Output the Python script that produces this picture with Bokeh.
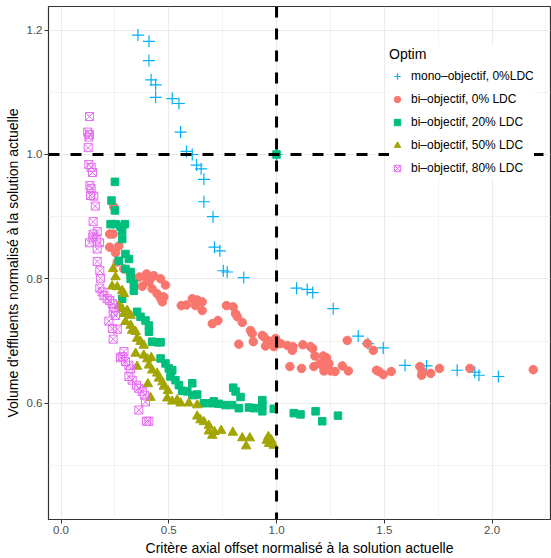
from bokeh.plotting import figure
from bokeh.models import Span, Legend, LegendItem, FixedTicker, Range1d
from bokeh.embed import file_html
from bokeh.resources import INLINE

# ---------------- data ----------------
series_labels = ["mono–objectif, 0%LDC", "bi–objectif, 0% LDC", "bi–objectif, 20% LDC",
                 "bi–objectif, 50% LDC", "bi–objectif, 80% LDC"]

mono_x = [0.357, 0.408, 0.408, 0.418, 0.439, 0.439, 0.516, 0.547, 0.555, 0.582, 0.609, 0.629,
          0.650, 0.663, 0.663, 0.705, 0.712, 0.737, 0.753, 0.771, 0.848, 1.000, 1.093, 1.142,
          1.168, 1.263, 1.379, 1.424, 1.495, 1.596, 1.696, 1.838, 1.920, 1.939, 2.029]
mono_y = [1.192, 1.182, 1.151, 1.120, 1.112, 1.092, 1.090, 1.082, 1.036, 1.005, 1.000, 0.983,
          0.977, 0.960, 0.924, 0.900, 0.851, 0.845, 0.813, 0.811, 0.802, 1.000, 0.785, 0.783,
          0.778, 0.752, 0.708, 0.696, 0.689, 0.661, 0.660, 0.653, 0.650, 0.645, 0.643]

bi0_x = [0.245, 0.226, 0.242, 0.226, 0.253, 0.268, 0.261, 0.291, 0.320, 0.340, 0.364, 0.397,
         0.415, 0.431, 0.462, 0.485, 0.377, 0.423, 0.446, 0.462, 0.477, 0.470, 0.408, 0.400,
         0.558, 0.582, 0.609, 0.624, 0.632, 0.655, 0.655, 0.702, 0.728, 0.768, 0.799, 0.810,
         0.818, 0.841, 0.879, 0.887, 0.825, 0.892, 0.934, 0.941, 0.957, 0.949, 0.972, 0.988,
         0.995, 1.011, 1.019, 1.050, 1.076, 1.073, 1.122, 1.158, 1.168, 1.178, 1.217, 1.232,
         1.328, 1.421, 1.449, 1.201, 1.212, 1.243, 1.062, 1.116, 1.173, 1.220, 1.251, 1.271,
         1.305, 1.333, 1.464, 1.475, 1.495, 1.532, 1.665, 1.676, 1.673, 1.715, 1.756, 1.897,
         2.191]
bi0_y = [0.916, 0.872, 0.872, 0.851, 0.842, 0.853, 0.827, 0.816, 0.810, 0.800, 0.803, 0.808,
         0.800, 0.805, 0.800, 0.790, 0.788, 0.784, 0.776, 0.769, 0.771, 0.763, 0.795, 0.797,
         0.757, 0.758, 0.768, 0.757, 0.766, 0.763, 0.749, 0.728, 0.733, 0.757, 0.755, 0.744,
         0.739, 0.730, 0.717, 0.712, 0.695, 0.699, 0.709, 0.707, 0.701, 0.692, 0.699, 0.691,
         0.704, 0.696, 0.696, 0.693, 0.691, 0.685, 0.694, 0.691, 0.688, 0.676, 0.676, 0.673,
         0.701, 0.696, 0.685, 0.664, 0.661, 0.664, 0.659, 0.656, 0.659, 0.652, 0.652, 0.651,
         0.660, 0.652, 0.653, 0.651, 0.646, 0.651, 0.659, 0.651, 0.645, 0.648, 0.656, 0.656,
         0.654]

bi20_x = [1.000, 0.250, 0.234, 0.250, 0.230, 0.253, 0.276, 0.296, 0.284, 0.284, 0.268, 0.299,
          0.315, 0.299, 0.323, 0.323, 0.338, 0.338, 0.284, 0.353, 0.369, 0.392, 0.408, 0.408,
          0.423, 0.446, 0.462, 0.462, 0.485, 0.500, 0.516, 0.508, 0.531, 0.547, 0.562, 0.586,
          0.609, 0.609, 0.632, 0.663, 0.700, 0.709, 0.732, 0.763, 0.794, 0.825, 0.872, 0.895,
          0.934, 0.934, 0.934, 0.987, 1.080, 1.111, 1.181, 1.212, 1.285, 0.799, 0.810, 0.833]
bi20_y = [1.000, 0.956, 0.926, 0.910, 0.888, 0.888, 0.884, 0.888, 0.877, 0.864, 0.829, 0.840,
          0.832, 0.816, 0.811, 0.800, 0.792, 0.781, 0.768, 0.747, 0.739, 0.733, 0.725, 0.715,
          0.699, 0.698, 0.698, 0.672, 0.664, 0.656, 0.653, 0.643, 0.637, 0.629, 0.620, 0.619,
          0.632, 0.613, 0.614, 0.600, 0.600, 0.603, 0.599, 0.597, 0.597, 0.592, 0.593, 0.592,
          0.605, 0.587, 0.597, 0.591, 0.584, 0.582, 0.587, 0.571, 0.580, 0.625, 0.619, 0.610]

bi50_x = [0.242, 0.253, 0.237, 0.261, 0.284, 0.292, 0.268, 0.284, 0.292, 0.307, 0.323, 0.299,
          0.323, 0.330, 0.346, 0.353, 0.369, 0.384, 0.346, 0.384, 0.400, 0.419, 0.408, 0.353,
          0.423, 0.446, 0.454, 0.470, 0.403, 0.477, 0.496, 0.415, 0.493, 0.516, 0.539, 0.555,
          0.593, 0.632, 0.632, 0.647, 0.663, 0.686, 0.686, 0.702, 0.712, 0.743, 0.797, 0.841,
          0.876, 0.859, 0.955, 0.965, 0.975, 0.962, 0.987]
bi50_y = [0.816, 0.803, 0.788, 0.787, 0.781, 0.776, 0.757, 0.752, 0.744, 0.749, 0.741, 0.731,
          0.725, 0.717, 0.715, 0.704, 0.699, 0.693, 0.680, 0.677, 0.671, 0.673, 0.661, 0.659,
          0.653, 0.648, 0.640, 0.634, 0.631, 0.627, 0.620, 0.609, 0.608, 0.603, 0.605, 0.600,
          0.600, 0.597, 0.579, 0.573, 0.570, 0.564, 0.555, 0.548, 0.554, 0.556, 0.553, 0.544,
          0.544, 0.531, 0.540, 0.535, 0.541, 0.546, 0.532]

bi80_x = [0.132, 0.124, 0.132, 0.129, 0.126, 0.129, 0.140, 0.146, 0.134, 0.140, 0.137, 0.152,
          0.159, 0.149, 0.149, 0.168, 0.148, 0.163, 0.132, 0.179, 0.168, 0.168, 0.180, 0.183,
          0.180, 0.191, 0.199, 0.214, 0.226, 0.238, 0.245, 0.242, 0.253, 0.222, 0.238, 0.261,
          0.242, 0.292, 0.276, 0.284, 0.299, 0.315, 0.323, 0.315, 0.330, 0.350, 0.361, 0.377,
          0.387, 0.392, 0.361, 0.397, 0.408]
bi80_y = [1.061, 1.036, 1.032, 1.028, 1.011, 0.984, 0.979, 0.971, 0.950, 0.945, 0.934, 0.933,
          0.917, 0.892, 0.872, 0.876, 0.867, 0.864, 0.858, 0.858, 0.848, 0.828, 0.813, 0.801,
          0.785, 0.779, 0.773, 0.768, 0.765, 0.760, 0.753, 0.747, 0.741, 0.732, 0.720, 0.719,
          0.703, 0.683, 0.673, 0.675, 0.667, 0.661, 0.655, 0.643, 0.637, 0.629, 0.624, 0.619,
          0.613, 0.602, 0.589, 0.571, 0.571]

x_ticks = [0.0, 0.5, 1.0, 1.5, 2.0]
x_minor = [0.25, 0.75, 1.25, 1.75, 2.25]
y_ticks = [0.6, 0.8, 1.0, 1.2]
y_minor = [0.5, 0.7, 0.9, 1.1]
ref_x = 1.0
ref_y = 1.0

# ---------------- figure ----------------
FONT = "Liberation Sans"
p = figure(width=551, height=558, output_backend="svg", toolbar_location=None,
           x_range=Range1d(-0.058, 2.271), y_range=Range1d(0.413, 1.238),
           min_border_left=48, min_border_right=1, min_border_top=6, min_border_bottom=36)
p.background_fill_color = "white"
p.border_fill_color = "white"
p.outline_line_color = "#333333"
p.outline_line_width = 1.2

p.xaxis.ticker = FixedTicker(ticks=x_ticks, minor_ticks=x_minor)
p.yaxis.ticker = FixedTicker(ticks=y_ticks, minor_ticks=y_minor)
p.xaxis.major_label_overrides = {v: f"{v:.1f}" for v in x_ticks}
p.yaxis.major_label_overrides = {v: f"{v:.1f}" for v in y_ticks}

for ax in (p.xaxis, p.yaxis):
    ax.axis_line_color = None
    ax.major_tick_line_color = "#333333"
    ax.major_tick_line_width = 1
    ax.major_tick_out = 4
    ax.major_tick_in = 0
    ax.minor_tick_line_color = None
    ax.major_label_text_font = FONT
    ax.major_label_text_font_size = "11.5px"
    ax.major_label_text_color = "#4D4D4D"
    ax.axis_label_text_font = FONT
    ax.axis_label_text_font_size = "14px"
    ax.axis_label_text_font_style = "normal"
    ax.axis_label_text_color = "black"
    ax.major_label_standoff = 2
    ax.axis_label_standoff = 3

p.xaxis.axis_label = "Critère axial offset normalisé à la solution actuelle"
p.yaxis.axis_label = "Volume d'effluents normalisé à la solution actuelle"

for g in (p.xgrid, p.ygrid):
    g.grid_line_color = "#EBEBEB"
    g.grid_line_width = 1.1
    g.minor_grid_line_color = "#EBEBEB"
    g.minor_grid_line_width = 0.6

r_mono = p.scatter(mono_x, mono_y, marker="cross", size=12, line_color="#00B0F6", line_width=1.2)
r_bi0 = p.scatter(bi0_x, bi0_y, marker="circle", size=8.5, fill_color="#F8766D", line_color="#F8766D")
r_bi20 = p.scatter(bi20_x, bi20_y, marker="square", size=7.5, fill_color="#00BF7D", line_color="#00BF7D")
r_bi50 = p.scatter(bi50_x, bi50_y, marker="triangle", size=9.5, fill_color="#A3A500", line_color="#A3A500")
r_bi80 = p.scatter(bi80_x, bi80_y, marker="square_x", size=8, fill_color=None, line_color="#E76BF3", line_width=1)

p.add_layout(Span(location=ref_x, dimension="height", line_color="black", line_width=3, line_dash="11 11"))
p.add_layout(Span(location=ref_y, dimension="width", line_color="black", line_width=3, line_dash="11 11"))

legend = Legend(
    items=[LegendItem(label=series_labels[0], renderers=[r_mono]),
           LegendItem(label=series_labels[1], renderers=[r_bi0]),
           LegendItem(label=series_labels[2], renderers=[r_bi20]),
           LegendItem(label=series_labels[3], renderers=[r_bi50]),
           LegendItem(label=series_labels[4], renderers=[r_bi80])],
    location=(341, 341),
    title="Optim",
    title_text_font=FONT, title_text_font_size="14px", title_text_font_style="normal",
    title_text_color="black", title_standoff=4,
    label_text_font=FONT, label_text_font_size="12px", label_text_color="black",
    background_fill_color="white", background_fill_alpha=1.0,
    border_line_color=None, padding=8, spacing=3, margin=0,
    glyph_width=16, glyph_height=20, label_height=20, label_standoff=6,
)
p.add_layout(legend)

open("out.html", "w").write(file_html(p, INLINE))
